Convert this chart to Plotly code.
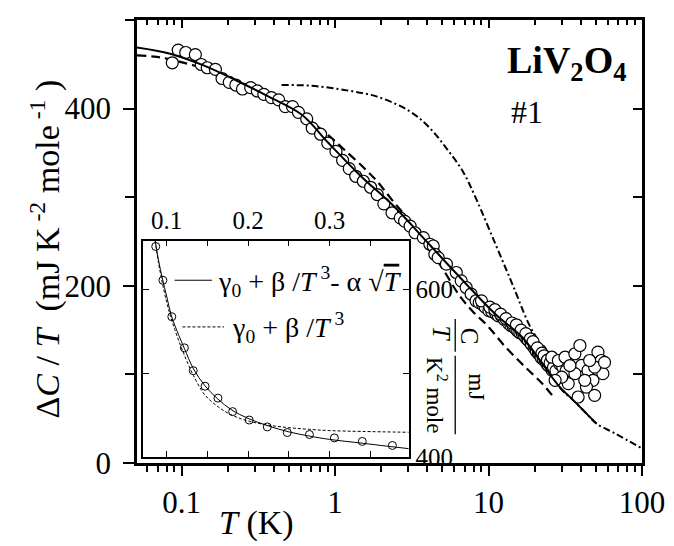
import math
import plotly.graph_objects as go

# ---------------- data ----------------
# main panel: measured Delta C / T (mJ K^-2 mole^-1) vs T (K)
T_data = [0.0871, 0.0952, 0.1066, 0.1231, 0.1345, 0.1471, 0.1663, 0.1837, 0.2046, 0.226,
          0.2496, 0.2823, 0.3118, 0.3439, 0.3855, 0.4295, 0.4744, 0.5286, 0.5777, 0.6543,
          0.711, 0.8054, 0.8975, 1.015, 1.121, 1.238, 1.365, 1.53, 1.705, 1.884,
          2.08, 2.352, 2.661, 2.84, 3.086, 3.323, 3.765, 4.151, 4.366, 4.471,
          4.701, 5.318, 6.167, 6.642, 7.153, 7.703, 8.297, 8.7, 9.165, 9.5,
          10.06, 10.5, 11.16, 11.6, 12.2, 12.7, 13.53, 14.0, 14.5, 15.01,
          15.5, 16.0, 16.58, 17.2, 17.8, 18.2, 19.0, 19.8, 20.0, 20.5,
          21.12, 21.5, 21.75, 22.0, 22.7, 23.42, 24.0, 24.5, 25.98,
          9.0, 10.2, 11.0, 12.0, 13.0, 14.2, 15.2, 16.3, 17.5, 18.7,
          19.5, 20.8, 22.3, 23.0, 24.2, 25.2, 26.5, 27.5, 29.0, 30.5, 32.0,
          25.86, 28.52, 31.51, 36.53, 40.35, 44.5, 51.63, 54.29, 55.59, 49.16,
          47.93, 43.46, 38.37, 49.16, 42.39, 36.53, 33.08, 30.0, 27.16, 33.9,
          45.6, 39.4, 57.0]
C_data = [451.7, 466.0, 463.3, 461.0, 449.8, 446.1, 444.2, 434.0, 429.6, 426.6,
          422.1, 423.6, 419.9, 416.1, 412.4, 409.8, 402.2, 402.2, 395.8, 388.4,
          377.9, 371.1, 361.0, 351.7, 341.6, 332.2, 323.6, 318.0, 311.2, 303.0,
          292.5, 282.4, 276.7, 273.0, 267.4, 259.9, 254.3, 246.9, 244.9, 235.6,
          231.8, 224.4, 215.0, 205.6, 198.1, 190.7, 183.1, 181.0, 178.7, 176.0,
          171.9, 171.0, 168.5, 166.0, 165.2, 162.0, 157.3, 155.0, 154.0, 151.7,
          149.0, 147.0, 146.1, 143.0, 140.0, 138.2, 134.0, 130.0, 132.0, 126.0,
          123.6, 124.0, 127.0, 119.0, 117.0, 115.7, 112.0, 110.0, 104.5,
          183.0, 176.0, 173.0, 168.0, 163.0, 158.0, 156.0, 150.0, 146.0, 140.0,
          137.0, 130.0, 124.0, 121.0, 116.0, 113.0, 108.0, 104.0, 112.0, 108.0, 104.0,
          119.4, 115.7, 119.4, 123.3, 110.1, 104.5, 125.1, 115.7, 100.8, 108.2,
          93.3, 85.7, 74.5, 76.4, 93.3, 100.8, 89.6, 97.0, 93.3, 110.0,
          115.7, 132.6, 113.5]

# main panel curves
fit_T = [0.0513, 0.0843, 0.138, 0.226, 0.37, 0.608, 0.897, 1.47, 2.41, 4.15,
         6.81, 11.1, 16.6, 21.0, 28.4, 36.6, 44.5, 50.4]
fit_C = [469, 462, 449, 432, 413.5, 393, 362, 324, 290, 246,
         206, 168, 142, 119, 88, 69, 54, 44.6]

dash_T = [0.0513, 0.0691, 0.0884, 0.119, 0.16, 0.226, 0.37, 0.608, 0.897, 1.15,
          1.546, 1.88, 2.35, 3.0, 4.0, 5.0, 6.47, 8.0, 9.84, 12.9, 17.4, 22.3, 26.5]
dash_C = [460, 458.4, 454.7, 449, 443, 432, 413.5, 393, 370.4, 353.6,
          333, 318, 297, 275, 245, 220, 189, 170, 155, 131, 108, 90, 74.5]

dd_T = [0.449, 0.7, 1.15, 1.88, 3.09, 4.15, 5.31, 6.81, 8.27, 11.1,
        14.3, 18.3, 22.9, 28.4, 36.6, 44.5, 50.4, 66.1, 100]
dd_C = [426.6, 425.8, 421, 413.5, 396.6, 378, 355.4, 329, 299, 247,
        202, 157, 127, 88, 69, 54, 44.6, 33.7, 16.5]

# inset: C/T (mJ / K^2 mole) vs T (K)
ins_T = [0.0867, 0.0955, 0.1064, 0.1218, 0.1327, 0.1472, 0.163, 0.181, 0.2013, 0.2235,
         0.248, 0.2752, 0.3058, 0.34, 0.3769]
ins_C = [650.9, 610.6, 567.2, 530.1, 502.9, 484.4, 470.2, 454.1, 444.1, 435.9,
         429.2, 426.8, 422.8, 418.6, 413.8]

ins_fit1_T = [0.086, 0.09, 0.095, 0.1, 0.106, 0.115, 0.122, 0.133, 0.147, 0.163,
              0.18, 0.2, 0.225, 0.25, 0.275, 0.3, 0.34, 0.37, 0.397]
ins_fit1_C = [658, 635, 612, 592, 568, 545, 529, 505, 485, 469,
              456, 446, 437, 430, 425, 421, 416.5, 413, 410]
ins_fit2_T = [0.086, 0.09, 0.1, 0.11, 0.122, 0.133, 0.147, 0.163, 0.18, 0.2,
              0.225, 0.25, 0.275, 0.3, 0.34, 0.397]
ins_fit2_C = [658, 632, 585, 552, 521, 497, 474, 460, 450, 443,
              438, 435, 433, 431.5, 430.5, 429.5]

main_xticks = [0.1, 1, 10, 100]
main_xlabels = ["0.1", "1", "10", "100"]
main_xminor = [0.06, 0.07, 0.08, 0.09] + [k / 10 for k in range(2, 10)] + \
              list(range(2, 10)) + [10 * k for k in range(2, 10)]
main_yticks = [0, 200, 400]
main_ylabels = ["0", "200", "400"]
main_yminor = [100, 300, 500]
ins_xticks = [0.1, 0.2, 0.3]
ins_xlabels = ["0.1", "0.2", "0.3"]
ins_xminor = [0.15, 0.25, 0.35]
ins_yticks = [400, 600]
ins_ylabels = ["400", "600"]
ins_yminor = [500]

# ---------------- layout helpers ----------------
# the page body has an 8 px margin, so the figure is drawn 8 px smaller and
# all page positions below are given in page pixels and converted.
OFF = 8
PAGE_W, PAGE_H = 674, 546
W, H = PAGE_W - OFF, PAGE_H - OFF
PLOT_L, PLOT_R, PLOT_T, PLOT_B = 137, 648, 17, 463      # page pixels
ML, MR, MT, MB = PLOT_L - OFF, PAGE_W - PLOT_R, PLOT_T - OFF, PAGE_H - PLOT_B
PW, PH = PLOT_R - PLOT_L, PLOT_B - PLOT_T
SERIF = "Liberation Serif, Times New Roman, serif"


def px(x):
    return (x - PLOT_L) / PW


def py(y):
    return (PLOT_B - y) / PH


fig = go.Figure()

# main curves
fig.add_trace(go.Scatter(x=dash_T, y=dash_C, mode="lines", line_shape="spline",
                         line=dict(color="black", width=2.2, dash="9px,5px"),
                         showlegend=False))
fig.add_trace(go.Scatter(x=dd_T, y=dd_C, mode="lines", line_shape="spline",
                         line=dict(color="black", width=2, dash="7px,3px,2px,3px"),
                         showlegend=False))
fig.add_trace(go.Scatter(x=T_data, y=C_data, mode="markers",
                         marker=dict(symbol="circle", size=12, color="white",
                                     line=dict(color="black", width=1.2)),
                         showlegend=False))
fig.add_trace(go.Scatter(x=fit_T, y=fit_C, mode="lines", line_shape="spline",
                         line=dict(color="black", width=2), showlegend=False))

# dummy trace for the inward ticks on top / right
fig.add_trace(go.Scatter(x=[None], y=[None], xaxis="x2", yaxis="y2",
                         showlegend=False, hoverinfo="skip"))

# inset traces
fig.add_trace(go.Scatter(x=ins_fit2_T, y=ins_fit2_C, mode="lines", line_shape="spline",
                         xaxis="x3", yaxis="y3",
                         line=dict(color="black", width=1, dash="3px,2px"),
                         showlegend=False))
fig.add_trace(go.Scatter(x=ins_fit1_T, y=ins_fit1_C, mode="lines", line_shape="spline",
                         xaxis="x3", yaxis="y3",
                         line=dict(color="black", width=1), showlegend=False))
fig.add_trace(go.Scatter(x=ins_T, y=ins_C, mode="markers", xaxis="x3", yaxis="y3",
                         marker=dict(symbol="circle-open", size=8, color="black",
                                     line=dict(width=1)),
                         showlegend=False))

xr = [math.log10(0.0513), 2]
yr = [0, 500]
tickfont = dict(family=SERIF, size=31, color="black")
insfont = dict(family=SERIF, size=25, color="black")

fig.update_layout(
    width=W, height=H,
    margin=dict(l=ML, r=MR, t=MT, b=MB, pad=0),
    paper_bgcolor="white", plot_bgcolor="white",
    font=dict(family=SERIF, color="black"),
    xaxis=dict(type="log", range=xr, tickmode="array", tickvals=main_xticks,
               ticktext=main_xlabels, ticks="outside", ticklen=10, tickwidth=2,
               tickcolor="black", showline=True, linewidth=2.5, linecolor="black",
               mirror=True, showgrid=False, zeroline=False, tickfont=tickfont,
               ticklabelstandoff=0,
               minor=dict(tickmode="array", tickvals=main_xminor, ticks="outside",
                          ticklen=6, tickwidth=1.5, tickcolor="black", showgrid=False)),
    xaxis2=dict(type="log", range=xr, overlaying="x", side="top", tickmode="array",
                tickvals=main_xticks, ticks="inside", ticklen=8, tickwidth=2,
                tickcolor="black", showticklabels=False, showgrid=False, zeroline=False,
                showline=False,
                minor=dict(tickmode="array", tickvals=main_xminor, ticks="inside",
                           ticklen=5, tickwidth=1.5, tickcolor="black", showgrid=False)),
    yaxis=dict(range=yr, tickmode="array", tickvals=main_yticks, ticktext=main_ylabels,
               ticks="outside", ticklen=11, tickwidth=2, tickcolor="black",
               showline=True, linewidth=2.5, linecolor="black", mirror=True,
               showgrid=False, zeroline=False, tickfont=tickfont, ticklabelstandoff=6,
               minor=dict(tickmode="array", tickvals=main_yminor, ticks="outside",
                          ticklen=9, tickwidth=2, tickcolor="black", showgrid=False)),
    yaxis2=dict(range=yr, overlaying="y", side="right", tickmode="array",
                tickvals=main_yticks, ticks="inside", ticklen=9, tickwidth=2,
                tickcolor="black", showticklabels=False, showgrid=False,
                zeroline=False, showline=False,
                minor=dict(tickmode="array", tickvals=main_yminor, ticks="inside",
                           ticklen=9, tickwidth=2, tickcolor="black", showgrid=False)),
    xaxis3=dict(domain=[px(143), px(412)], anchor="y3", side="top", range=[0.071, 0.397],
                tickmode="array", tickvals=ins_xticks, ticktext=ins_xlabels,
                ticks="inside", ticklen=6, tickwidth=1.2, tickcolor="black",
                showline=True, linewidth=1.5, linecolor="black", mirror="ticks",
                showgrid=False, zeroline=False, tickfont=insfont, ticklabelstandoff=0,
                minor=dict(tickmode="array", tickvals=ins_xminor, ticks="inside",
                           ticklen=6, tickwidth=1.2, tickcolor="black", showgrid=False)),
    yaxis3=dict(domain=[py(457), py(239)], anchor="x3", side="right", range=[400, 658],
                tickmode="array", tickvals=ins_yticks, ticktext=ins_ylabels,
                ticks="inside", ticklen=6, tickwidth=1.2, tickcolor="black",
                showline=True, linewidth=1.5, linecolor="black", mirror="ticks",
                showgrid=False, zeroline=False, tickfont=insfont, ticklabelstandoff=0,
                minor=dict(tickmode="array", tickvals=ins_yminor, ticks="inside",
                           ticklen=6, tickwidth=1.2, tickcolor="black", showgrid=False)),
)


def note(text, x, y, size, xanchor="center", yanchor="middle", angle=0):
    fig.add_annotation(text=text, x=px(x), y=py(y), xref="paper", yref="paper",
                       showarrow=False, xanchor=xanchor, yanchor=yanchor,
                       textangle=angle, font=dict(family=SERIF, size=size, color="black"))


note("<b>LiV<sub>2</sub>O<sub>4</sub></b>", 509, 60, 38, xanchor="left")
note("#1", 513, 110, 32, xanchor="left")
note("<i>T</i> (K)", 258, 523, 34)
note("Δ<i>C</i> / <i>T</i>\u00a0 (mJ K<sup> -2</sup> mole<sup> -1</sup> )", 44, 248, 34, angle=-90)

# inset legend
note("γ<sub>0</sub> + β /<i>T</i><sup> 3</sup>- α √<span style='text-decoration:overline'><i>T</i></span>",
     217, 280, 28, xanchor="left")
note("γ<sub>0</sub> + β /<i>T</i><sup> 3</sup>", 231, 327, 28, xanchor="left")

# inset y label written as two fractions, rotated
note("C", 473, 335, 25, angle=90)
note("<i>T</i>", 445, 333, 25, angle=90)
note("mJ", 481, 387, 23, angle=90)
note("K<sup>2</sup> mole", 440, 395, 23, angle=90)


def seg(x0, y0, x1, y1, width=1.0, dash="solid"):
    fig.add_shape(type="line", xref="paper", yref="paper",
                  x0=px(x0), y0=py(y0), x1=px(x1), y1=py(y1),
                  line=dict(color="black", width=width, dash=dash))


seg(175, 279, 213, 279, 1)
seg(183, 326, 225, 326, 1, "3px,2px")
seg(459, 318, 459, 351, 1.3)
seg(459, 355, 459, 434, 1.3)

fig.write_html("out.html")
